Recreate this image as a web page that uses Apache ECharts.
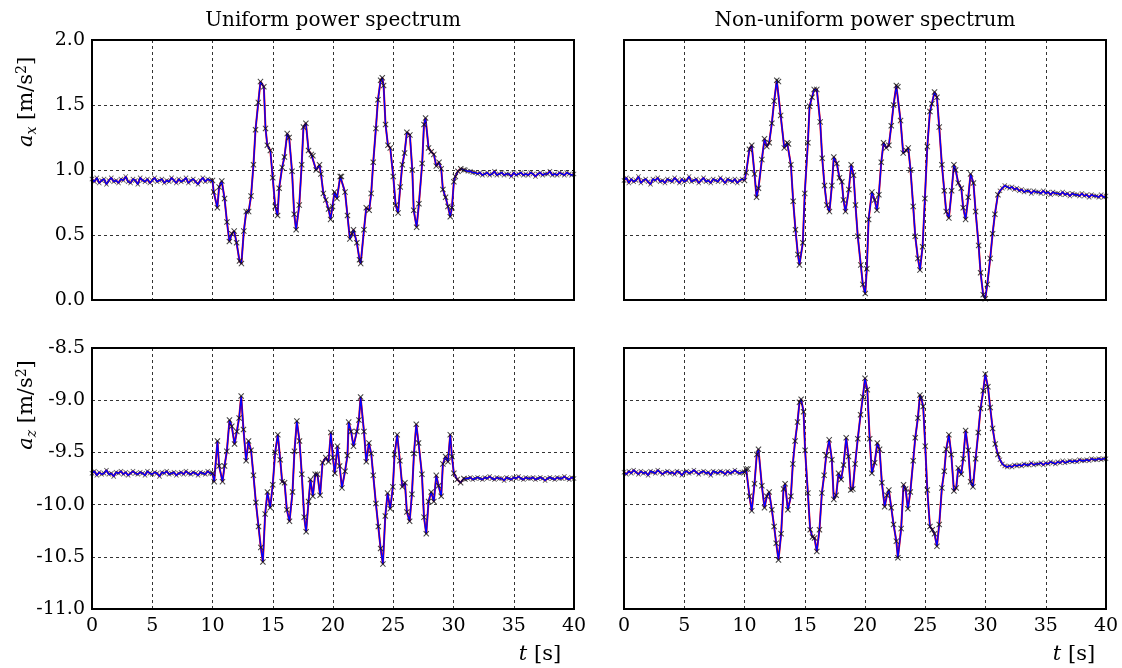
<!DOCTYPE html>
<html><head><meta charset="utf-8">
<script src="https://cdn.jsdelivr.net/npm/echarts@6/dist/echarts.min.js"></script>
<style>html,body{margin:0;padding:0;background:#fff}#c{width:1122px;height:668px}</style>
</head><body><div id="c"></div>
<script>
// ---------- data ----------
const panelTitles = ['Uniform power spectrum', 'Non-uniform power spectrum'];
const xTicks = [0, 5, 10, 15, 20, 25, 30, 35, 40];
const STEP = 0.2;

// a_x, uniform spectrum: flat part before 10 s (starts 0 s), after 31 s (starts 31.0 s)
const axUniPre = [0.93,0.91,0.94,0.90,0.92,0.93,0.89,0.92,0.94,0.91,0.92,0.90,0.93,0.92,0.95,0.91,0.90,0.93,0.92,0.89,0.94,0.92,0.91,0.93,0.90,0.92,0.94,0.91,0.92,0.93,0.90,0.92,0.91,0.94,0.92,0.90,0.93,0.91,0.92,0.94,0.90,0.92,0.93,0.91,0.89,0.92,0.94,0.91,0.93,0.92];
const axUniActive = [[10.0,0.92],[10.1,0.83],[10.4,0.71],[10.55,0.87],[10.77,0.915],[11.0,0.78],[11.2,0.60],[11.4,0.45],[11.6,0.51],[11.8,0.53],[12.0,0.44],[12.24,0.30],[12.4,0.28],[12.6,0.53],[12.8,0.68],[13.0,0.68],[13.2,0.80],[13.4,1.04],[13.57,1.31],[13.8,1.52],[13.98,1.68],[14.26,1.64],[14.4,1.32],[14.55,1.19],[14.8,1.15],[15.0,0.94],[15.2,0.72],[15.4,0.65],[15.53,0.86],[15.78,1.02],[15.97,1.10],[16.2,1.28],[16.36,1.25],[16.6,0.99],[16.78,0.66],[16.94,0.54],[17.2,0.73],[17.4,1.04],[17.55,1.33],[17.75,1.36],[17.97,1.15],[18.2,1.12],[18.33,1.11],[18.6,1.00],[18.88,1.04],[19.0,0.97],[19.2,0.82],[19.4,0.77],[19.63,0.70],[19.8,0.62],[19.96,0.72],[20.12,0.83],[20.33,0.78],[20.6,0.95],[20.7,0.95],[21.0,0.83],[21.2,0.65],[21.4,0.47],[21.57,0.51],[21.7,0.54],[21.98,0.44],[22.2,0.31],[22.3,0.28],[22.57,0.54],[22.76,0.71],[23.0,0.69],[23.17,0.82],[23.34,1.06],[23.56,1.32],[23.73,1.54],[23.95,1.69],[24.09,1.71],[24.2,1.65],[24.36,1.35],[24.56,1.19],[24.75,1.17],[25.0,0.95],[25.2,0.73],[25.4,0.67],[25.58,0.87],[25.75,1.04],[25.94,1.13],[26.13,1.29],[26.38,1.27],[26.58,1.00],[26.7,0.69],[26.94,0.56],[27.13,0.74],[27.4,1.05],[27.55,1.35],[27.68,1.40],[27.93,1.17],[28.15,1.14],[28.37,1.12],[28.57,1.03],[28.8,1.06],[28.98,1.01],[29.12,0.85],[29.34,0.79],[29.54,0.72],[29.73,0.64],[29.87,0.71],[30.03,0.91],[30.15,0.95],[30.37,0.99],[30.6,1.01],[30.86,1.00]];
const axUniPost = [1.00,0.99,0.99,0.98,0.98,0.97,0.98,0.96,0.97,0.98,0.96,0.97,0.99,0.96,0.97,0.98,0.96,0.97,0.97,0.95,0.98,0.96,0.97,0.98,0.96,0.97,0.96,0.98,0.97,0.95,0.97,0.98,0.96,0.97,0.97,0.99,0.96,0.97,0.96,0.98,0.97,0.96,0.98,0.97,0.96,0.97];

// a_x, non-uniform spectrum (post starts 31.2 s)
const axNonPre = [0.92,0.94,0.90,0.93,0.91,0.92,0.95,0.90,0.92,0.93,0.91,0.89,0.93,0.92,0.94,0.91,0.92,0.90,0.93,0.92,0.91,0.94,0.92,0.90,0.93,0.91,0.92,0.95,0.91,0.92,0.93,0.90,0.92,0.94,0.91,0.92,0.90,0.93,0.92,0.91,0.94,0.92,0.90,0.93,0.92,0.91,0.93,0.90,0.92,0.93];
const axNonActive = [[10.0,0.92],[10.14,0.98],[10.41,1.16],[10.6,1.19],[10.83,0.97],[11.0,0.79],[11.16,0.86],[11.44,1.08],[11.66,1.24],[11.85,1.18],[12.05,1.21],[12.27,1.36],[12.46,1.53],[12.68,1.69],[12.82,1.68],[13.0,1.42],[13.3,1.17],[13.54,1.21],[13.65,1.20],[13.85,1.04],[14.04,0.76],[14.23,0.54],[14.43,0.35],[14.56,0.27],[14.84,0.44],[15.0,0.82],[15.26,1.21],[15.4,1.49],[15.6,1.56],[15.78,1.62],[16.0,1.62],[16.28,1.37],[16.45,1.09],[16.64,0.88],[16.83,0.73],[17.05,0.68],[17.25,0.88],[17.41,1.10],[17.66,1.05],[17.88,0.94],[18.08,0.91],[18.21,0.77],[18.38,0.68],[18.66,0.85],[18.85,1.04],[19.05,0.96],[19.21,0.73],[19.4,0.49],[19.65,0.27],[19.82,0.12],[20.02,0.05],[20.15,0.24],[20.3,0.62],[20.57,0.83],[20.8,0.77],[20.99,0.69],[21.15,0.81],[21.35,1.06],[21.54,1.21],[21.76,1.17],[21.98,1.19],[22.18,1.34],[22.37,1.50],[22.6,1.65],[22.73,1.64],[22.95,1.38],[23.17,1.13],[23.42,1.15],[23.59,1.17],[23.78,1.00],[24.0,0.72],[24.17,0.49],[24.39,0.32],[24.56,0.23],[24.78,0.41],[24.97,0.78],[25.17,1.18],[25.39,1.45],[25.55,1.51],[25.77,1.60],[25.97,1.56],[26.16,1.33],[26.38,1.04],[26.58,0.84],[26.74,0.68],[26.96,0.63],[27.19,0.84],[27.38,1.04],[27.52,1.00],[27.74,0.90],[27.99,0.86],[28.15,0.71],[28.35,0.62],[28.57,0.79],[28.76,0.97],[29.0,0.90],[29.18,0.68],[29.43,0.42],[29.59,0.21],[29.81,0.04],[29.98,0.01],[30.15,0.12],[30.39,0.32],[30.59,0.51],[30.78,0.66],[31.03,0.81]];
const axNonPost = [0.84,0.86,0.88,0.87,0.86,0.87,0.85,0.86,0.84,0.85,0.83,0.84,0.84,0.82,0.84,0.83,0.83,0.82,0.84,0.82,0.83,0.81,0.83,0.82,0.82,0.81,0.83,0.81,0.82,0.80,0.82,0.81,0.81,0.80,0.82,0.80,0.81,0.79,0.81,0.80,0.80,0.79,0.81,0.79,0.80];

// a_z, uniform spectrum (post starts 31.0 s)
const azUniPre = [-9.70,-9.68,-9.72,-9.69,-9.71,-9.70,-9.67,-9.71,-9.70,-9.73,-9.69,-9.70,-9.68,-9.71,-9.69,-9.72,-9.70,-9.68,-9.70,-9.71,-9.69,-9.70,-9.72,-9.68,-9.70,-9.71,-9.69,-9.70,-9.73,-9.69,-9.70,-9.68,-9.71,-9.70,-9.69,-9.72,-9.70,-9.69,-9.71,-9.68,-9.70,-9.71,-9.69,-9.70,-9.72,-9.69,-9.70,-9.71,-9.68,-9.70];
const azUniActive = [[10.0,-9.70],[10.14,-9.78],[10.41,-9.39],[10.55,-9.63],[10.83,-9.78],[11.0,-9.63],[11.19,-9.49],[11.41,-9.19],[11.6,-9.25],[11.83,-9.42],[12.02,-9.30],[12.21,-9.17],[12.38,-8.96],[12.57,-9.28],[12.79,-9.58],[12.99,-9.39],[13.2,-9.48],[13.4,-9.72],[13.6,-9.98],[13.82,-10.21],[14.01,-10.41],[14.18,-10.55],[14.37,-10.09],[14.56,-9.88],[14.79,-10.03],[15.0,-9.81],[15.2,-9.50],[15.42,-9.33],[15.62,-9.57],[15.78,-9.78],[15.98,-9.79],[16.17,-10.05],[16.39,-10.16],[16.64,-9.88],[16.8,-9.49],[17.0,-9.20],[17.22,-9.39],[17.41,-9.71],[17.61,-10.12],[17.77,-10.26],[17.97,-9.97],[18.13,-9.76],[18.33,-9.92],[18.52,-9.71],[18.71,-9.71],[18.93,-9.91],[19.13,-9.60],[19.4,-9.55],[19.63,-9.59],[19.82,-9.31],[19.99,-9.55],[20.15,-9.70],[20.37,-9.44],[20.55,-9.63],[20.74,-9.84],[21.0,-9.68],[21.2,-9.53],[21.3,-9.21],[21.5,-9.30],[21.7,-9.44],[21.98,-9.30],[22.15,-9.19],[22.29,-8.97],[22.57,-9.30],[22.76,-9.59],[22.98,-9.41],[23.17,-9.51],[23.34,-9.72],[23.56,-9.99],[23.76,-10.21],[23.95,-10.42],[24.14,-10.57],[24.34,-10.11],[24.53,-9.89],[24.75,-10.04],[24.97,-9.83],[25.11,-9.52],[25.33,-9.33],[25.55,-9.58],[25.75,-9.83],[25.97,-9.79],[26.13,-10.07],[26.36,-10.16],[26.55,-9.90],[26.72,-9.51],[26.91,-9.23],[27.1,-9.41],[27.38,-9.71],[27.55,-10.12],[27.74,-10.28],[27.93,-9.97],[28.15,-9.88],[28.37,-9.97],[28.57,-9.72],[28.76,-9.82],[28.98,-9.92],[29.12,-9.61],[29.34,-9.54],[29.54,-9.59],[29.73,-9.33],[29.87,-9.54],[30.03,-9.70],[30.31,-9.76],[30.59,-9.79],[30.86,-9.75]];
const azUniPost = [-9.76,-9.75,-9.74,-9.76,-9.75,-9.74,-9.75,-9.76,-9.74,-9.75,-9.73,-9.75,-9.76,-9.74,-9.75,-9.75,-9.77,-9.74,-9.75,-9.76,-9.74,-9.75,-9.73,-9.75,-9.76,-9.74,-9.75,-9.75,-9.74,-9.76,-9.75,-9.74,-9.75,-9.77,-9.75,-9.74,-9.75,-9.76,-9.74,-9.75,-9.75,-9.73,-9.75,-9.76,-9.74,-9.75];

// a_z, non-uniform spectrum (post starts 31.2 s)
const azNonPre = [-9.69,-9.71,-9.68,-9.70,-9.67,-9.69,-9.71,-9.68,-9.70,-9.69,-9.72,-9.68,-9.69,-9.70,-9.67,-9.69,-9.71,-9.69,-9.68,-9.70,-9.69,-9.71,-9.68,-9.69,-9.72,-9.69,-9.68,-9.70,-9.69,-9.67,-9.69,-9.71,-9.69,-9.68,-9.70,-9.69,-9.72,-9.68,-9.69,-9.70,-9.68,-9.69,-9.71,-9.68,-9.70,-9.69,-9.67,-9.69,-9.70,-9.69];
const azNonActive = [[10.0,-9.69],[10.14,-9.66],[10.28,-9.66],[10.41,-9.92],[10.6,-10.06],[10.83,-9.80],[11.02,-9.52],[11.16,-9.47],[11.44,-9.82],[11.66,-10.03],[11.85,-9.92],[12.05,-9.88],[12.27,-10.05],[12.46,-10.21],[12.63,-10.37],[12.82,-10.53],[13.04,-10.28],[13.24,-9.85],[13.37,-9.80],[13.6,-10.05],[13.85,-9.92],[14.01,-9.61],[14.2,-9.39],[14.4,-9.21],[14.56,-9.02],[14.7,-8.99],[14.9,-9.11],[15.03,-9.48],[15.26,-9.89],[15.45,-10.24],[15.64,-10.31],[15.81,-10.32],[16.0,-10.45],[16.22,-10.24],[16.42,-9.89],[16.61,-9.72],[16.78,-9.53],[17.03,-9.38],[17.25,-9.57],[17.41,-9.95],[17.61,-9.91],[17.8,-9.70],[18.02,-9.76],[18.22,-9.62],[18.44,-9.36],[18.63,-9.54],[18.82,-9.86],[18.99,-9.85],[19.18,-9.61],[19.4,-9.37],[19.63,-9.14],[19.82,-8.97],[20.0,-8.79],[20.19,-8.90],[20.39,-9.37],[20.57,-9.70],[20.8,-9.60],[21.02,-9.41],[21.21,-9.47],[21.4,-9.79],[21.63,-10.02],[21.82,-9.91],[21.98,-9.86],[22.18,-10.03],[22.37,-10.19],[22.6,-10.35],[22.73,-10.51],[23.0,-10.23],[23.2,-9.81],[23.37,-9.85],[23.56,-10.04],[23.76,-9.88],[24.0,-9.58],[24.17,-9.36],[24.39,-9.17],[24.56,-8.95],[24.67,-8.98],[24.83,-9.06],[25.0,-9.44],[25.17,-9.86],[25.39,-10.21],[25.58,-10.24],[25.77,-10.28],[25.97,-10.40],[26.16,-10.19],[26.38,-9.84],[26.58,-9.68],[26.74,-9.47],[26.96,-9.33],[27.16,-9.52],[27.38,-9.87],[27.57,-9.84],[27.74,-9.65],[27.99,-9.71],[28.15,-9.56],[28.35,-9.29],[28.57,-9.48],[28.76,-9.78],[28.96,-9.83],[29.18,-9.56],[29.4,-9.31],[29.59,-9.08],[29.81,-8.91],[29.98,-8.75],[30.2,-8.87],[30.39,-9.07],[30.59,-9.27],[30.81,-9.42],[31.03,-9.52]];
const azNonPost = [-9.57,-9.61,-9.63,-9.64,-9.63,-9.64,-9.62,-9.63,-9.62,-9.63,-9.61,-9.62,-9.62,-9.60,-9.62,-9.61,-9.61,-9.60,-9.62,-9.60,-9.61,-9.59,-9.60,-9.61,-9.59,-9.60,-9.58,-9.60,-9.59,-9.58,-9.59,-9.58,-9.59,-9.57,-9.58,-9.58,-9.57,-9.58,-9.56,-9.57,-9.57,-9.56,-9.57,-9.56,-9.56];

// ---------- build ----------
function sampled(start, vals) { return vals.map((v, i) => [+(start + i * STEP).toFixed(2), v]); }
const panels = [
  { pre: sampled(0, axUniPre), act: axUniActive, post: sampled(31.0, axUniPost) },
  { pre: sampled(0, axNonPre), act: axNonActive, post: sampled(31.2, axNonPost) },
  { pre: sampled(0, azUniPre), act: azUniActive, post: sampled(31.0, azUniPost) },
  { pre: sampled(0, azNonPre), act: azNonActive, post: sampled(31.2, azNonPost) }
];
const FONT = 'DejaVu Serif';
const XMARK = 'path://M0,1.2L1.2,0L5,3.8L8.8,0L10,1.2L6.2,5L10,8.8L8.8,10L5,6.2L1.2,10L0,8.8L3.8,5Z';

const grids = [
  { left: 92, top: 40, width: 482, height: 260 },
  { left: 624, top: 40, width: 482, height: 260 },
  { left: 92, top: 348, width: 482, height: 261 },
  { left: 624, top: 348, width: 482, height: 261 }
].map(g => Object.assign(g, { show: true, borderColor: '#000', borderWidth: 2, backgroundColor: 'transparent', z: 10 }));

const splitLine = { show: true, lineStyle: { color: '#000', width: 0.8, type: [3, 3] } };
const xAxes = grids.map((g, i) => ({
  gridIndex: i, type: 'value', min: 0, max: 40, interval: 5,
  axisLine: { show: false }, axisTick: { show: false }, splitLine,
  axisLabel: { show: i >= 2, color: '#000', fontFamily: FONT, fontSize: 19, margin: 8 }
}));
const yAxes = grids.map((g, i) => ({
  gridIndex: i, type: 'value',
  min: i < 2 ? 0 : -11, max: i < 2 ? 2 : -8.5, interval: 0.5,
  axisLine: { show: false }, axisTick: { show: false }, splitLine,
  axisLabel: { show: i % 2 === 0, color: '#000', fontFamily: FONT, fontSize: 19, margin: 7,
    formatter: v => v.toFixed(1) }
}));

const series = [];
panels.forEach((p, i) => {
  const all = p.pre.concat(p.act, p.post);
  const common = { xAxisIndex: i, yAxisIndex: i, silent: true, animation: false };
  series.push(Object.assign({ type: 'line', data: all, showSymbol: false, z: 2,
    lineStyle: { color: '#ff0000', width: 2.0 } }, common));
  series.push(Object.assign({ type: 'scatter', data: p.pre.concat(p.post), symbol: XMARK, symbolSize: 5, z: 3,
    itemStyle: { color: '#333' } }, common));
  series.push(Object.assign({ type: 'line', data: all, showSymbol: false, z: 4,
    lineStyle: { color: '#0000ff', width: 1.4 } }, common));
  series.push(Object.assign({ type: 'scatter', data: p.act, symbol: XMARK, symbolSize: 6, z: 5,
    itemStyle: { color: '#111' } }, common));
});

const richY = {
  i: { fontFamily: FONT, fontStyle: 'italic', fontSize: 21, fill: '#000' },
  s: { fontFamily: FONT, fontStyle: 'italic', fontSize: 14, fill: '#000', padding: [10, 0, 0, 0] },
  n: { fontFamily: FONT, fontSize: 21, fill: '#000' },
  p: { fontFamily: FONT, fontSize: 14, fill: '#000', padding: [0, 0, 10, 0] }
};
function yLabel(sub, cx, cy) {
  return { type: 'text', x: cx, y: cy, rotation: Math.PI / 2, z: 20,
    style: { text: '{i|a}{s|' + sub + '}{n| [m/s}{p|2}{n|]}', rich: richY, align: 'center', verticalAlign: 'middle' } };
}
function xLabel(cx, cy) {
  return { type: 'text', x: cx, y: cy, z: 20,
    style: { text: '{i|t}{n| [s]}', rich: richY, align: 'center', verticalAlign: 'middle' } };
}
const graphic = [
  { type: 'text', x: 333, y: 21, z: 20, style: { text: panelTitles[0], font: '20px "' + FONT + '"', fill: '#000', align: 'center', verticalAlign: 'middle' } },
  { type: 'text', x: 865, y: 21, z: 20, style: { text: panelTitles[1], font: '20px "' + FONT + '"', fill: '#000', align: 'center', verticalAlign: 'middle' } },
  yLabel('x', 27, 102), yLabel('z', 27, 405),
  xLabel(540, 655), xLabel(1074, 655)
];

const chart = echarts.init(document.getElementById('c'), null, { renderer: 'canvas' });
chart.setOption({ animation: false, backgroundColor: '#fff', grid: grids, xAxis: xAxes, yAxis: yAxes, series, graphic });
</script></body></html>
